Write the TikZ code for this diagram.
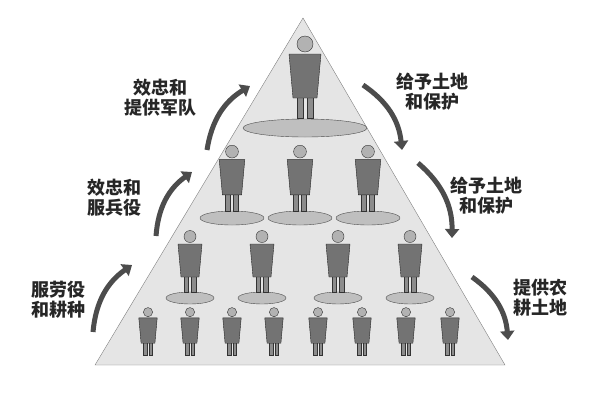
\documentclass[tikz,border=0pt]{standalone}
\usepackage{fontspec}
\newfontfamily\cjk{Noto Sans CJK SC}
\usetikzlibrary{arrows.meta}
\tikzset{
 flow/.style={line width=5pt,draw=black!70,-{Triangle[length=9pt,width=14pt]}},
 lab/.style={font=\cjk\bfseries\fontsize{18}{20}\selectfont,align=center,text=black!85},
 person/.pic={
   \fill[black!45,draw=black!80] (-4,-2) rectangle (-1,-14);
   \fill[black!45,draw=black!80] (1,-2) rectangle (4,-14);
   \fill[black!55,draw=black!85] (-8,-34) -- (8,-34) -- (6,-12) -- (-6,-12) -- cycle;
   \fill[black!30,draw=black!80] (0,-39) circle (4);
 },
 stand/.style={fill=black!25,draw=black!70}
}
\begin{document}
\begin{tikzpicture}[x=1pt,y=-1pt]
\useasboundingbox (0,0) rectangle (600,400);
\fill[black!10,draw=black!50] (303,18) coordinate (apex) -- (505,365) coordinate (br) -- (95,365) coordinate (bl) -- cycle;
% top
\fill[stand] (305,128) ellipse (62 and 9);
\pic[scale=2.0] at (305,122) {person};
% tier 2
\foreach \x in {232,300,368}{\fill[stand] (\x,218) ellipse (32 and 7); \pic[scale=1.6] at (\x,214) {person};}
% tier 3
\foreach \x in {190,262,338,410}{\fill[stand] (\x,298) ellipse (24 and 6); \pic[scale=1.5] at (\x,295) {person};}
% tier 4
\foreach \x in {148,190,232,274,318,362,406,450}{\pic[scale=1.15] at (\x,357) {person};}
% arrows
\coordinate (a1) at (93,332); \coordinate (a2) at (132,265);
\coordinate (b1) at (156,236); \coordinate (b2) at (192,172);
\coordinate (c1) at (207,150); \coordinate (c2) at (250,86);
\draw[flow] (a1) to[bend left=25] (a2);
\draw[flow] (b1) to[bend left=25] (b2);
\draw[flow] (c1) to[bend left=25] (c2);
\coordinate (d1) at (363,85); \coordinate (d2) at (402,150);
\coordinate (e1) at (418,163); \coordinate (e2) at (452,238);
\coordinate (f1) at (472,277); \coordinate (f2) at (508,340);
\draw[flow] (d1) to[bend left=25] (d2);
\draw[flow] (e1) to[bend left=25] (e2);
\draw[flow] (f1) to[bend left=25] (f2);
% labels
\node[lab] (t1) at (160,98) {效忠和\\提供军队};
\node[lab] (t2) at (114,198) {效忠和\\服兵役};
\node[lab] (t3) at (58,300) {服劳役\\和耕种};
\node[lab] (t4) at (432,92) {给予土地\\和保护};
\node[lab] (t5) at (486,196) {给予土地\\和保护};
\node[lab] (t6) at (540,298) {提供农\\耕土地};
\end{tikzpicture}
\end{document}
